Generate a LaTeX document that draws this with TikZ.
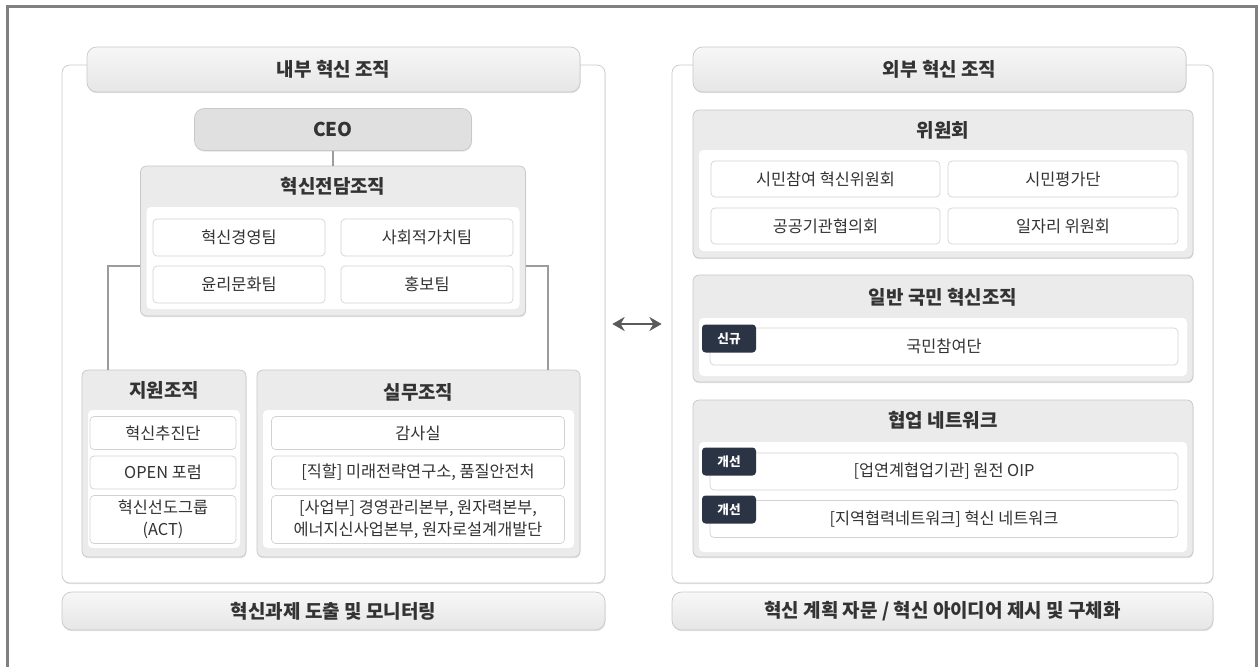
\documentclass[tikz,border=0pt]{standalone}
\usepackage{fontspec}
\setmainfont{Noto Sans CJK KR}
\usetikzlibrary{shadows,arrows.meta}
\definecolor{framegray}{HTML}{808080}
\definecolor{boxline}{HTML}{C8C8C8}
\definecolor{itemline}{HTML}{D2D2D2}
\definecolor{headtop}{HTML}{F7F7F7}
\definecolor{headbot}{HTML}{E6E6E6}
\definecolor{ceofill}{HTML}{E0E0E0}
\definecolor{grpfill}{HTML}{EBEBEB}
\definecolor{txtgray}{HTML}{333333}
\definecolor{badgefill}{HTML}{2B3444}
\definecolor{linkgray}{HTML}{9C9C9C}
\definecolor{arrowgray}{HTML}{5A5A5A}
\tikzset{
  boxsize/.style 2 args={minimum width=#1*0.02cm,minimum height=#2*0.02cm},
  softshadow/.style={drop shadow={shadow xshift=0.3pt,shadow yshift=-0.7pt,opacity=0.22}},
  panel/.style={draw=boxline,fill=white,rounded corners=4.5pt,softshadow},
  headbar/.style={draw=boxline,top color=headtop,bottom color=headbot,rounded corners=5.5pt,
    softshadow,font=\fontsize{10.8}{13}\selectfont\bfseries},
  ceobar/.style={draw=boxline,fill=ceofill,rounded corners=5.5pt,
    softshadow,font=\fontsize{10.8}{13}\selectfont\bfseries},
  group/.style={draw=boxline,fill=grpfill,rounded corners=3.5pt,softshadow},
  grptitle/.style={font=\fontsize{10.8}{13}\selectfont\bfseries},
  inner/.style={fill=white,rounded corners=2.5pt},
  item/.style={draw=itemline,fill=white,rounded corners=2.3pt,align=center,
    font=\fontsize{9.3}{12.5}\selectfont},
  badge/.style={fill=badgefill,rounded corners=2pt,text=white,
    font=\fontsize{7.2}{8}\selectfont\bfseries},
  link/.style={draw=linkgray,line width=1.1pt},
  biarrow/.style={draw=arrowgray,line width=1.6pt,{Stealth[length=7pt,width=8pt]}-{Stealth[length=7pt,width=8pt]}}
}
\begin{document}
\begin{tikzpicture}[x=0.02cm,y=-0.02cm]
\tikzstyle{every node}+=[inner sep=0pt,text=txtgray]
\useasboundingbox (0,0) rectangle (1259,667);
% frame
\draw[framegray,line width=1.7pt] (7.5,667) -- (7.5,6.5) -- (1256.5,6.5) -- (1256.5,667);

% internal organisation
\node[panel,boxsize={543}{518}] (inpanel) at (333.5,324) {};
\node[headbar,boxsize={493}{45}] (inhead) at (333.5,69.5) {내부 혁신 조직};
\node[ceobar,boxsize={277}{42}] (ceo) at (333,129.5) {CEO};
\node[group,boxsize={385}{150}] (tf) at (333,241) {};
\draw[link] (ceo) -- (tf);
\node[group,boxsize={164}{187}] (sup) at (164,463.5) {};
\node[group,boxsize={323}{187}] (ops) at (418.5,463.5) {};
\draw[link] (tf.west |- 0,266) -| ([xshift=0.52cm]sup.north west);
\draw[link] (tf.east |- 0,266) -| ([xshift=-0.64cm]ops.north east);
\node[grptitle] (tftitle) at (333,186) {혁신전담조직};
\node[inner,boxsize={373}{102}] (tfin) at (333,258) {};
\node[item,boxsize={172}{37}] (t1) at (239,237.5) {혁신경영팀};
\node[item,boxsize={172}{37}] (t2) at (427,237.5) {사회적가치팀};
\node[item,boxsize={172}{37}] (t3) at (239,284.5) {윤리문화팀};
\node[item,boxsize={172}{37}] (t4) at (427,284.5) {홍보팀};

\node[grptitle] (suptitle) at (164,390) {지원조직};
\node[inner,boxsize={152}{138}] (supin) at (164,479) {};
\node[item,boxsize={146}{33}] (s1) at (163,433) {혁신추진단};
\node[item,boxsize={146}{33}] (s2) at (163,472.5) {OPEN 포럼};
\node[item,boxsize={146}{48}] (s3) at (163,519.5) {혁신선도그룹\\(ACT)};

\node[grptitle] (opstitle) at (418.5,392) {실무조직};
\node[inner,boxsize={311}{138}] (opsin) at (418.5,479) {};
\node[item,boxsize={293}{33}] (o1) at (418,433) {감사실};
\node[item,boxsize={293}{33}] (o2) at (418,472.5) {[직할] 미래전략연구소, 품질안전처};
\node[item,boxsize={293}{48}] (o3) at (418,519.5) {[사업부] 경영관리본부, 원자력본부,\\에너지신사업본부, 원자로설계개발단};

\node[headbar,boxsize={543}{38}] (inbar) at (333.5,611) {혁신과제 도출 및 모니터링};

% external organisation
\node[panel,boxsize={541}{518}] (expanel) at (942.5,324) {};
\node[headbar,boxsize={493}{45}] (exhead) at (939.5,69.5) {외부 혁신 조직};

\node[group,boxsize={500}{148}] (com) at (943,184) {};
\node[grptitle] (comtitle) at (943,130) {위원회};
\node[inner,boxsize={488}{101}] (comin) at (943,200.5) {};
\node[item,boxsize={229}{36}] (c1) at (825.5,179) {시민참여 혁신위원회};
\node[item,boxsize={230}{36}] (c2) at (1063,179) {시민평가단};
\node[item,boxsize={229}{36}] (c3) at (825.5,226) {공공기관협의회};
\node[item,boxsize={230}{36}] (c4) at (1063,226) {일자리 위원회};

\node[group,boxsize={500}{107}] (pub) at (943,328.5) {};
\node[grptitle] (pubtitle) at (943,297) {일반 국민 혁신조직};
\node[inner,boxsize={488}{58}] (pubin) at (943,347) {};
\node[item,boxsize={468}{37}] (p1) at (944,346.5) {국민참여단};
\node[badge,boxsize={54}{28}] (pnew) at (729,338.5) {신규};

\node[group,boxsize={500}{157}] (net) at (943,478.5) {};
\node[grptitle] (nettitle) at (943,420) {협업 네트워크};
\node[inner,boxsize={488}{110}] (netin) at (943,497) {};
\node[item,boxsize={468}{37}] (n1) at (944,471.5) {[업연계협업기관] 원전 OIP};
\node[badge,boxsize={54}{28}] (nfix1) at (729,461.5) {개선};
\node[item,boxsize={468}{37}] (n2) at (944,519) {[지역협력네트워크] 혁신 네트워크};
\node[badge,boxsize={54}{28}] (nfix2) at (729,509.5) {개선};

\node[headbar,boxsize={541}{38}] (exbar) at (942.5,611) {혁신 계획 자문 / 혁신 아이디어 제시 및 구체화};

% link between the two
\draw[biarrow] ([xshift=0.14cm]inpanel.east) -- ([xshift=-0.2cm]expanel.west);
\end{tikzpicture}
\end{document}
